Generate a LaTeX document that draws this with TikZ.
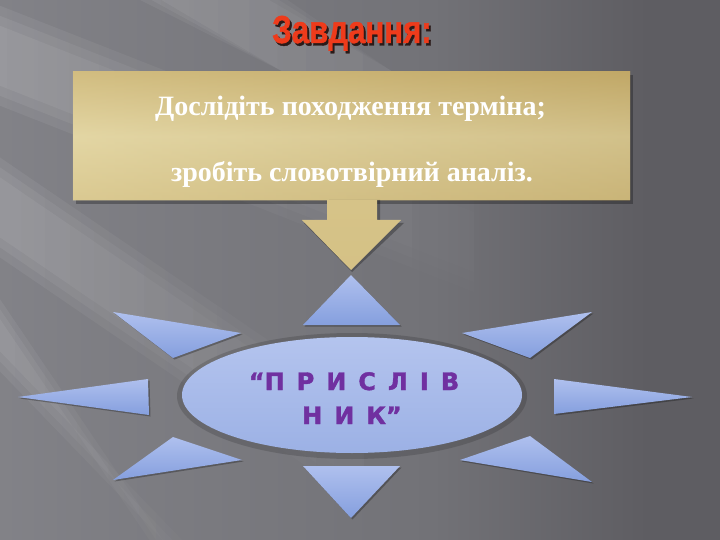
\documentclass[tikz,border=0pt]{standalone}
\usepackage{fontspec}
\setmainfont{Liberation Serif}
\newfontfamily\sansfam{Liberation Sans}[BoldFeatures={FakeBold=1.2}]
\newfontfamily\heavyfam{DejaVu Sans}[BoldFeatures={FakeBold=1.6}]
\usetikzlibrary{shapes.geometric,fadings}
\definecolor{bgL}{HTML}{929298}
\definecolor{bgM}{HTML}{727277}
\definecolor{bgR}{HTML}{5E5D62}
\definecolor{goldA}{HTML}{C9B06E}
\definecolor{goldB}{HTML}{E3D6A4}
\definecolor{goldC}{HTML}{D6C388}
\definecolor{goldD}{HTML}{B39A5B}
\definecolor{blueA}{HTML}{AFC0EE}
\definecolor{blueB}{HTML}{859FDE}
\definecolor{ellA}{HTML}{B4C4EE}
\definecolor{ellB}{HTML}{9CB1E5}
\definecolor{titleRed}{HTML}{EE3B1B}
\definecolor{titleShadow}{HTML}{2A1A18}
\definecolor{purpleText}{HTML}{7030A0}
\pgfdeclarehorizontalshading{bgshade}{100bp}{color(0bp)=(bgL); color(30bp)=(bgM!60!bgL); color(55bp)=(bgM); color(70bp)=(bgR); color(100bp)=(bgR)}
\tikzfading[name=fadeR, left color=transparent!0, right color=transparent!100]
\newcommand\lsp{\hspace{0.5em}}
\tikzset{
  streak/.style={white, opacity=0.07, path fading=fadeR},
  shadowfill/.style={black, opacity=0.28},
  ray/.style={top color=blueA, bottom color=blueB},
  boxtext/.style={font=\bfseries\fontsize{28}{30}\selectfont, text=white, anchor=base, inner sep=0pt},
  coretext/.style={font=\heavyfam\bfseries\fontsize{24}{26}\selectfont, text=purpleText, anchor=base, inner sep=0pt},
}
\begin{document}
\begin{tikzpicture}[x=1pt,y=-1pt]
\useasboundingbox (0,0) rectangle (720,540);
% background
\shade[shading=bgshade] (0,0) rectangle (720,540);
% light streaks
\begin{scope}
\clip (0,0) rectangle (720,540);
\foreach \w in {0,10,20}{
  \fill[streak] (-40,{10-\w}) -- (-40,{70+\w}) -- (520,{290+\w}) -- (520,{230-\w}) -- cycle;
  \fill[streak] (-40,{150-\w}) -- (-40,{210+\w}) -- (400,{510+\w}) -- (400,{450-\w}) -- cycle;
  \fill[streak] (-40,{260-\w}) -- (-40,{310+\w}) -- (240,{600+\w}) -- (190,{600-\w}) -- cycle;
  \fill[streak] (60,{-40-\w}) -- (200,{-40-\w}) -- (580,{180+\w}) -- (500,{180+\w}) -- cycle;
}
\end{scope}
% title
\node[font=\sansfam\bfseries\fontsize{39}{39}\selectfont, anchor=base, inner sep=0pt] (title) at (352,43)
  {\scalebox{0.8}[1]{\makebox[0pt][l]{\hspace{2.5pt}\raisebox{-2.5pt}{\color{titleShadow}Завдання:}}\color{titleRed}Завдання:}};
% gold box
\fill[shadowfill] (76,75) rectangle (633,204);
\node[minimum width=557pt, minimum height=128pt, inner sep=0pt, top color=goldA, bottom color=goldC, middle color=goldB] (box) at (351.5,136) {};
\shade[left color=goldB, right color=goldD, opacity=0.35] (box.north west) rectangle (box.south east);
\node[boxtext] (l1) at (350.5,116) {Дослідіть походження терміна;};
\node[boxtext] (l2) at (352,182) {зробіть словотвірний аналіз.};
% gold arrow
\fill[shadowfill] (329,200) -- (380,200) -- (380,223) -- (404,223) -- (352,272) -- (304,223) -- (329,223) -- cycle;
\shade[top color=goldC, bottom color=goldC!90!goldA] (327,200) -- (377,200) -- (377,220) -- (401,220) -- (351,270) -- (302,220) -- (327,220) -- cycle;
% core ellipse
\fill[black, opacity=0.15] (352,396) ellipse [x radius=175pt, y radius=63pt];
\node[ellipse, minimum width=340pt, minimum height=116pt, inner sep=0pt, top color=ellA, bottom color=ellB] (core) at (352,395) {};
\node[coretext] (c1) at (354,390) {“П\lsp Р\lsp И\lsp С\lsp Л\lsp І\lsp В};
\node[coretext] (c2) at (352,424) {Н\lsp И\lsp К”};
% rays
\foreach \pts in {
  {(351,275) -- (400,325) -- (303,325)},
  {(303,466) -- (400,466) -- (351,518)},
  {(113,312) -- (241,333) -- (173,358)},
  {(592,312) -- (462,333) -- (530,358)},
  {(18,397) -- (148,379) -- (149,415)},
  {(692,397) -- (554,379) -- (554,414)},
  {(113,480) -- (173,437) -- (242,460)},
  {(592,482) -- (530,436) -- (460,460)}}{
  \fill[shadowfill, shift={(1.5,1.5)}] \pts -- cycle;
  \shade[ray] \pts -- cycle;
}
\end{tikzpicture}
\end{document}
